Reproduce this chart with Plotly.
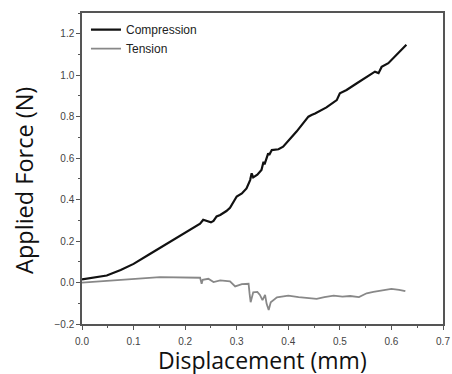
import plotly.graph_objects as go

comp_x = [0, 0.02, 0.048, 0.075, 0.1, 0.13, 0.164, 0.2, 0.229, 0.235, 0.242, 0.25, 0.255, 0.261, 0.268,
          0.28, 0.287, 0.294, 0.297, 0.300, 0.31, 0.319, 0.326, 0.329, 0.332, 0.34, 0.348, 0.352, 0.354,
          0.358, 0.361, 0.363, 0.368, 0.381, 0.39, 0.416, 0.439, 0.445, 0.452, 0.474, 0.494, 0.5, 0.513,
          0.533, 0.552, 0.568, 0.575, 0.581, 0.594, 0.607, 0.629]
comp_y = [0.015, 0.022, 0.034, 0.06, 0.09, 0.135, 0.187, 0.24, 0.284, 0.303, 0.298, 0.29, 0.297, 0.319,
          0.326, 0.345, 0.361, 0.389, 0.405, 0.415, 0.43, 0.454, 0.494, 0.527, 0.507, 0.52, 0.543, 0.583,
          0.57, 0.60, 0.623, 0.615, 0.639, 0.643, 0.655, 0.728, 0.80, 0.808, 0.815, 0.845, 0.88, 0.913,
          0.929, 0.961, 0.993, 1.017, 1.010, 1.04, 1.058, 1.09, 1.147]

ten_x = [0, 0.151, 0.229, 0.232, 0.234, 0.245, 0.255, 0.268, 0.287, 0.294, 0.297, 0.31, 0.323, 0.325,
         0.327, 0.332, 0.34, 0.345, 0.35, 0.355, 0.358, 0.362, 0.366, 0.378, 0.4, 0.42, 0.455, 0.47,
         0.488, 0.505, 0.52, 0.537, 0.552, 0.565, 0.578, 0.6, 0.615, 0.627]
ten_y = [0.0, 0.026, 0.023, -0.006, 0.013, 0.018, 0.002, 0.01, 0.006, -0.01, -0.019, -0.008, -0.006,
         -0.055, -0.095, -0.047, -0.045, -0.06, -0.085, -0.06, -0.103, -0.132, -0.095, -0.071, -0.063,
         -0.07, -0.079, -0.07, -0.063, -0.068, -0.065, -0.07, -0.052, -0.045, -0.039, -0.031, -0.035,
         -0.042]

x_title = "Displacement (mm)"
y_title = "Applied Force (N)"

fig = go.Figure()
fig.add_trace(go.Scatter(x=comp_x, y=comp_y, mode="lines", name="Compression",
                         line=dict(color="#111111", width=2.2)))
fig.add_trace(go.Scatter(x=ten_x, y=ten_y, mode="lines", name="Tension",
                         line=dict(color="#888888", width=1.8)))

axis_common = dict(showline=True, linecolor="#555555", linewidth=1.5, mirror=True,
                   ticks="outside", ticklen=4, tickwidth=1, tickcolor="#555555",
                   showgrid=False, zeroline=False, automargin=False,
                   tickfont=dict(family="Liberation Sans, Arial", size=10, color="#444444"))

fig.update_xaxes(range=[0, 0.7], dtick=0.1, tickformat=".1f", ticklabelstandoff=3,
                 minor=dict(dtick=0.05, ticks="outside", ticklen=2, tickcolor="#555555"),
                 **axis_common)
fig.update_yaxes(range=[-0.2, 1.3], dtick=0.2, tickformat=".1f",
                 minor=dict(dtick=0.1, ticks="outside", ticklen=2, tickcolor="#555555"),
                 **axis_common)

title_font = dict(family="Open Sans, Noto Sans", size=23, color="#111111")
fig.add_annotation(text=x_title, xref="paper", yref="paper", x=0.5, y=-0.117,
                   xanchor="center", yanchor="middle", showarrow=False, font=title_font)
fig.add_annotation(text=y_title, xref="paper", yref="paper", x=-0.161, y=0.463,
                   xanchor="center", yanchor="middle", showarrow=False, textangle=-90,
                   font=dict(family="Open Sans, Noto Sans", size=23.5, color="#111111"))

fig.update_layout(width=452, height=374, margin=dict(l=82, r=9, t=13, b=50),
                  plot_bgcolor="white", paper_bgcolor="white",
                  legend=dict(x=0.011, y=0.993, xanchor="left", yanchor="top",
                              bgcolor="rgba(0,0,0,0)", itemwidth=30, tracegroupgap=0,
                              font=dict(family="Liberation Sans, Arial", size=12, color="#222222")))

fig.write_html("out.html", config={"displayModeBar": False},
               post_script="document.body.style.margin='0';document.body.style.overflow='hidden';")
